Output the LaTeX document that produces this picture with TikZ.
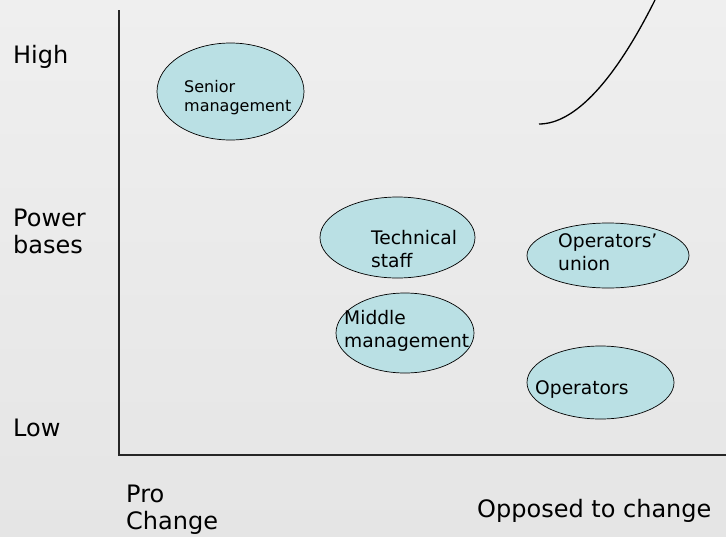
\documentclass[tikz,border=0pt]{standalone}
\usepackage{fontspec}
\setmainfont{DejaVu Sans}
\usetikzlibrary{shapes.geometric}
\definecolor{blob}{RGB}{186,224,228}
\definecolor{bgtop}{RGB}{239,239,239}
\definecolor{bgbot}{RGB}{229,229,229}

\begin{document}
\begin{tikzpicture}[
                x=1pt, y=-1pt,
                group/.style={draw, ellipse, fill=blob, line width=0.7pt, inner sep=0pt},
                axislabel/.style={anchor=base west, align=left, inner sep=0pt,
                    font=\fontsize{24}{27}\selectfont},
                grouplabel/.style={anchor=base west, align=left, inner sep=0pt,
                    font=\fontsize{18.67}{23}\selectfont}
            ]

                \shade[top color=bgtop, bottom color=bgbot] (0,0) rectangle (726,536);
                \useasboundingbox (0,0) rectangle (726,536);

                % axes
                \coordinate (top) at (119,10);
                \coordinate (origin) at (119,455);
                \coordinate (right) at (726,455);
                \draw[line width=1.3pt, black!85] (top) -- (origin) -- (right);

                % the groups
                \foreach \name/\cx/\cy/\w/\h in {senior/230.5/91.5/147/97, tech/397.5/237.5/155/81,
                        middle/405/333/138/80, union/608/255.5/162/65, ops/600.5/382.5/147/73} {
                    \node[group, minimum width=\w pt, minimum height=\h pt] (\name) at (\cx,\cy) {};
                }

                % labels sit on the baseline of their last line
                \node[grouplabel, font=\fontsize{16}{19}\selectfont] (seniortext) at (184,111.7) {Senior\\management};
                \node[grouplabel] (techtext) at (371,267) {Technical\\staff};
                \node[grouplabel] (middletext) at (344,347) {Middle\\management};
                \node[grouplabel] (uniontext) at (558,270) {Operators’\\union};
                \node[grouplabel] (opstext) at (535,394) {Operators};

                \node[axislabel] (high) at (13,63) {High};
                \node[axislabel] (power) at (13,253) {Power\\bases};
                \node[axislabel] (low) at (13,436) {Low};
                \node[axislabel] (pro) at (126,529) {Pro\\Change};
                \node[axislabel] (opposed) at (477,517) {Opposed to change};

                \coordinate (cstart) at (539,124);
                \coordinate (cend) at (655,0);
                \draw[line width=1.3pt] (cstart) .. controls (575,124) and (615,80) .. (cend);
            \end{tikzpicture}
\end{document}
